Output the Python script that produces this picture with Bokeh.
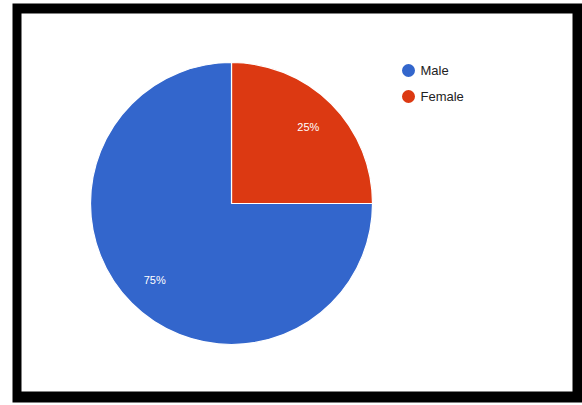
import numpy as np
from bokeh.plotting import figure
from bokeh.models import Range1d
from bokeh.core.properties import value
from bokeh.embed import file_html
from bokeh.resources import INLINE

# Data
categories = ["Male", "Female"]
values = [75, 25]
colors = ["#3366cc", "#dc3912"]

W, H = 582, 405
p = figure(width=W, height=H, output_backend="svg", toolbar_location=None,
           x_range=Range1d(0, W), y_range=Range1d(0, H), min_border=0,
           border_fill_color="white", background_fill_color="white")
p.axis.visible = False
p.grid.visible = False
p.outline_line_color = None

# Photo frame (black border)
p.quad(left=[12], right=[582], bottom=[H - 402], top=[H - 3], fill_color="black", line_color=None)
p.quad(left=[21], right=[572], bottom=[H - 391], top=[H - 13], fill_color="white", line_color=None)

# Pie: drawn clockwise from 12 o'clock, Female first (top-right quadrant)
cx, cy, R = 231, H - 203, 141
order = [1, 0]
vals = np.array(values, dtype=float)
fr = vals / vals.sum()
start = np.pi / 2
starts, ends, mids = {}, {}, {}
for i in order:
    end = start - fr[i] * 2 * np.pi
    starts[i], ends[i], mids[i] = start, end, (start + end) / 2
    start = end

for i in order:
    p.wedge(x=[cx], y=[cy], radius=R, start_angle=[starts[i]], end_angle=[ends[i]],
            direction="clock", fill_color=colors[i], line_color="white", line_width=1.2)

for i in order:
    lr = 0.77 * R
    p.text(x=[cx + lr * np.cos(mids[i])], y=[cy + lr * np.sin(mids[i])],
           text=[f"{int(round(fr[i] * 100))}%"], text_color="white",
           text_font=value("Liberation Sans"), text_font_size="11px",
           text_align="center", text_baseline="middle")

# Legend
for k, (cat, col) in enumerate(zip(categories, colors)):
    ly = H - (70 + 26 * k)
    p.scatter(x=[408], y=[ly], size=13, fill_color=col, line_color=None)
    p.text(x=[420], y=[ly], text=[cat], text_color="#222222",
           text_font=value("Liberation Sans"), text_font_size="13px",
           text_align="left", text_baseline="middle")

open("out.html", "w").write(file_html(p, INLINE))
